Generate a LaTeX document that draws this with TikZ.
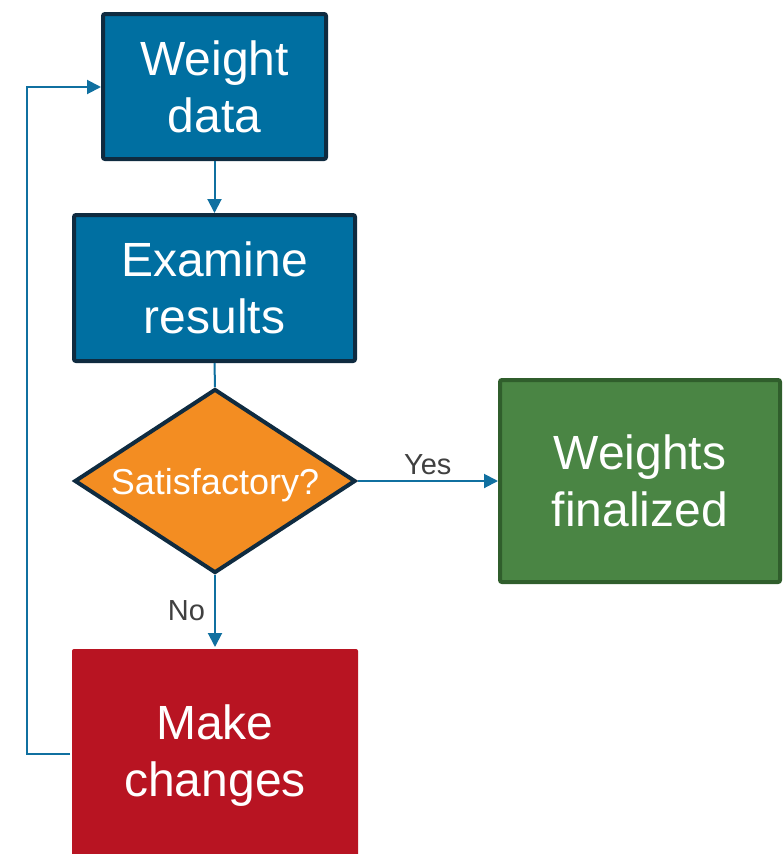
\documentclass[tikz,border=0pt]{standalone}
\usepackage{fontspec}
\setmainfont{Liberation Sans}
\usetikzlibrary{arrows.meta,shapes.geometric}
\definecolor{bluefill}{HTML}{006FA1}
\definecolor{darkedge}{HTML}{0F2B40}
\definecolor{greenfill}{HTML}{4A8544}
\definecolor{greenedge}{HTML}{305E2C}
\definecolor{redfill}{HTML}{B81422}
\definecolor{orangefill}{HTML}{F38D22}
\definecolor{linkblue}{HTML}{1070A0}
\definecolor{labelgrey}{HTML}{404040}
\tikzset{
  box/.style={rectangle, rounded corners=2pt, line width=4pt, text=white, align=center,
    inner sep=0pt, font=\fontsize{48}{57}\selectfont},
  bluebox/.style={box, draw=darkedge, fill=bluefill},
  greenbox/.style={box, draw=greenedge, fill=greenfill},
  redbox/.style={box, fill=redfill},
  decision/.style={diamond, draw=darkedge, fill=orangefill, line width=4pt, inner sep=0pt,
    text=white, text depth=0pt, font=\fontsize{36}{42}\selectfont},
  link/.style={draw=linkblue, line width=2pt},
  arrowlink/.style={link, -{Triangle[length=14pt,width=14pt]}},
  lbl/.style={text=labelgrey, inner sep=0pt, font=\fontsize{29}{34}\selectfont}
}
\begin{document}
\begin{tikzpicture}[x=1pt,y=-1pt]
\useasboundingbox (0,0) rectangle (784,854);
\node[bluebox, minimum width=223pt, minimum height=145pt] (wd) at (214.5,86.5) {Weight\\data};
\node[bluebox, minimum width=281pt, minimum height=146pt] (ex) at (214.5,288) {Examine\\results};
\node[decision, minimum width=281pt, minimum height=184pt, aspect=1.5] (dec) at (215,481) {Satisfactory?};
\node[greenbox, minimum width=280pt, minimum height=202pt] (fin) at (640,481) {Weights\\finalized};
\node[redbox, minimum width=286pt, minimum height=213pt] (mc) at (215,755.5) {Make\\changes};
\coordinate (c1) at (27,754);
\coordinate (c2) at (27,87);
\draw[arrowlink] (wd.south) -- (ex.north);
\draw[link] (ex.south) -- (dec.north);
\draw[arrowlink] (dec.east) -- node[lbl, above=5pt] {Yes} (fin.west);
\draw[arrowlink] (dec.south) -- node[lbl, left=9pt] {No} (mc.north);
\draw[arrowlink] (mc.west |- c1) -- (c1) -- (c2) -- (wd.west |- c2);
\end{tikzpicture}
\end{document}
